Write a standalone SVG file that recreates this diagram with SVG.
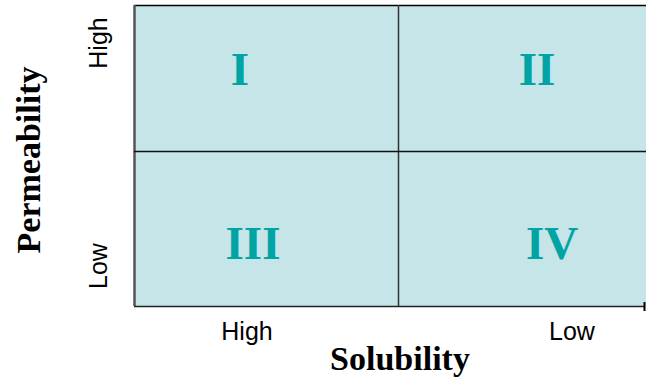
<svg xmlns="http://www.w3.org/2000/svg" width="646" height="379" viewBox="0 0 646 379">
<style>
.roman{font-family:"Liberation Serif",serif;font-weight:bold;font-size:47px;fill:#00A4A4;text-anchor:middle}
.tick{font-family:"Liberation Sans",Arial,sans-serif;font-size:25px;fill:#000;text-anchor:middle}
.axis{font-family:"Liberation Serif",serif;font-weight:bold;font-size:34px;fill:#000;text-anchor:middle}
</style>
<rect width="646" height="379" fill="#fff"/>
<g id="grid">
<rect x="134" y="5" width="520" height="301" fill="#C6E5E8"/>
<line x1="134" y1="5.5" x2="646" y2="5.5" stroke="#000" stroke-width="1.5"/>
<line x1="134.5" y1="5" x2="134.5" y2="306" stroke="#555" stroke-width="2.5"/>
<line x1="134" y1="306.5" x2="644" y2="306.5" stroke="#222" stroke-width="1.5"/>
<line x1="644.5" y1="302" x2="644.5" y2="311" stroke="#000" stroke-width="2"/>
<line x1="398.5" y1="5" x2="398.5" y2="306" stroke="#333" stroke-width="1.5"/>
<line x1="134" y1="151.5" x2="646" y2="151.5" stroke="#111" stroke-width="1.5"/>
</g>
<g id="q1"><text class="roman" x="240" y="85">I</text></g>
<g id="q2"><text class="roman" x="537" y="85">II</text></g>
<g id="q3"><text class="roman" x="253" y="259">III</text></g>
<g id="q4"><text class="roman" x="552" y="259">IV</text></g>
<g id="labels">
<text class="tick" transform="translate(107,43) rotate(-90)">High</text>
<text class="tick" transform="translate(107,266) rotate(-90)">Low</text>
<text class="tick" x="247" y="340">High</text>
<text class="tick" x="572" y="340">Low</text>
<text class="axis" transform="translate(40,160) rotate(-90)">Permeability</text>
<text class="axis" x="400" y="370">Solubility</text>
</g>
</svg>
